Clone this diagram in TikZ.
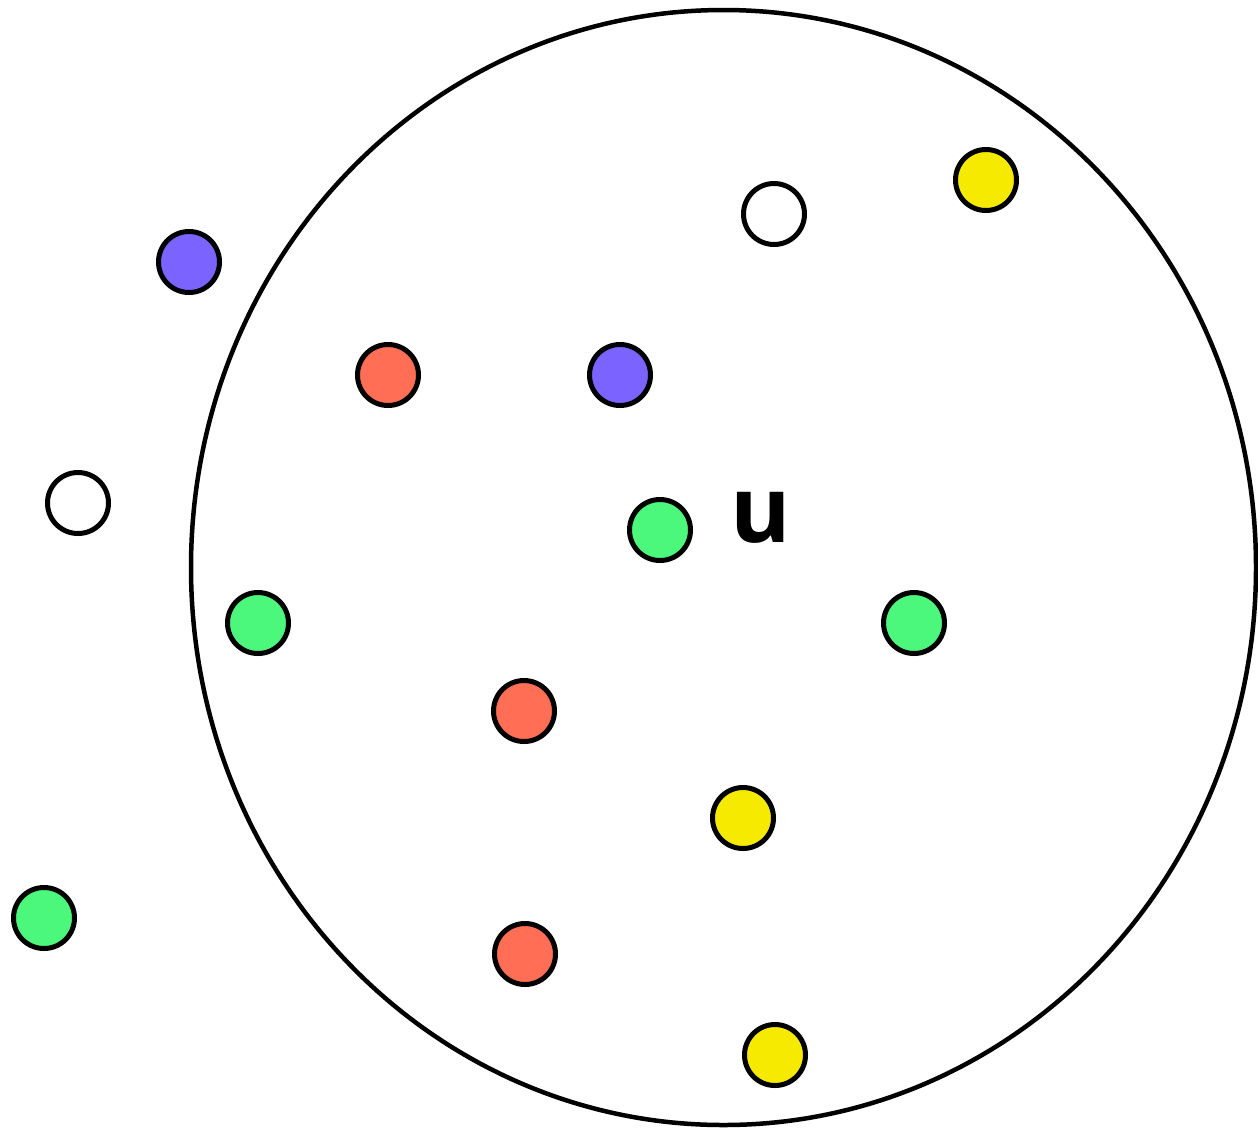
\documentclass[tikz,border=0pt]{standalone}
\usepackage{fontspec}
\setmainfont{Open Sans}
\definecolor{dotblue}{HTML}{7A63FF}
\definecolor{dotred}{HTML}{FF6E55}
\definecolor{dotgreen}{HTML}{4CF87C}
\definecolor{dotyellow}{HTML}{F5EA00}
\begin{document}
\begin{tikzpicture}[
  x=1pt, y=-1pt,
  dot/.style={circle, draw, line width=5pt, minimum size=61pt, inner sep=0pt},
  region/.style={draw, line width=4.5pt}
]
  \useasboundingbox (0,0) rectangle (1258,1128);
  \draw[region] (723.5,567.5) ellipse (532.5 and 557.5);

  \node[dot, fill=dotblue]   (b1) at (189,262) {};
  \node[dot, fill=dotred]    (r1) at (388,375) {};
  \node[dot, fill=dotblue]   (b2) at (620,375) {};
  \node[dot, fill=white]     (w1) at (774,214) {};
  \node[dot, fill=dotyellow] (y1) at (986,180) {};
  \node[dot, fill=white]     (w2) at (78,503) {};
  \node[dot, fill=dotgreen]  (u)  at (660,530) {};
  \node[inner sep=0pt, font=\fontsize{92}{100}\selectfont\bfseries] (ulabel) at (760.5,517.5) {u};
  \node[dot, fill=dotgreen]  (g1) at (258,623) {};
  \node[dot, fill=dotgreen]  (g2) at (914,623) {};
  \node[dot, fill=dotred]    (r2) at (524,711) {};
  \node[dot, fill=dotyellow] (y2) at (743,818) {};
  \node[dot, fill=dotgreen]  (g3) at (44,918) {};
  \node[dot, fill=dotred]    (r3) at (525,954) {};
  \node[dot, fill=dotyellow] (y3) at (775,1055) {};
\end{tikzpicture}
\end{document}
